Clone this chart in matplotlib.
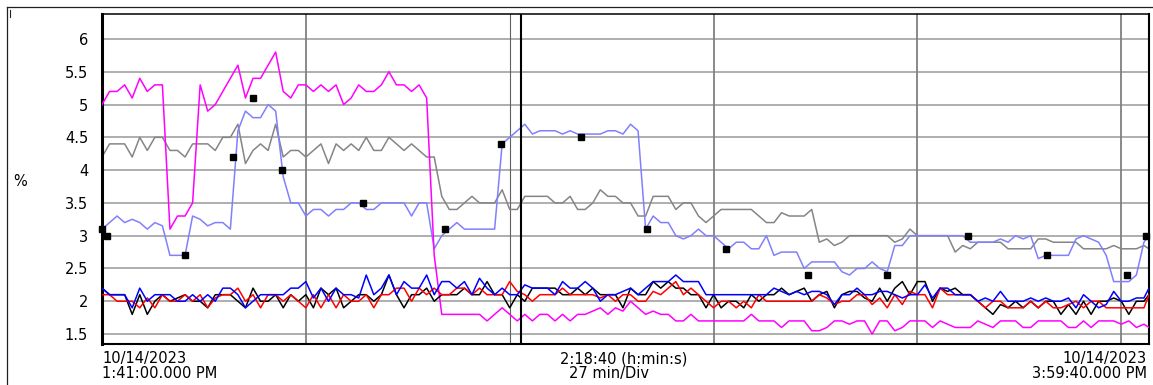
import numpy as np
import matplotlib
matplotlib.use("Agg")
import matplotlib.pyplot as plt
from matplotlib.lines import Line2D

# sample grid in minutes after 1:41:00 PM (one sample per minute, plus the last one)
minutes = np.append(np.arange(139), 138.67)

magenta = [
    5.0, 5.2, 5.2, 5.3, 5.1, 5.4, 5.2, 5.3, 5.3, 3.1,
    3.3, 3.3, 3.5, 5.3, 4.9, 5.0, 5.2, 5.4, 5.6, 5.1,
    5.4, 5.4, 5.6, 5.8, 5.2, 5.1, 5.3, 5.3, 5.2, 5.3,
    5.2, 5.3, 5.0, 5.1, 5.3, 5.2, 5.2, 5.3, 5.5, 5.3,
    5.3, 5.2, 5.3, 5.1, 2.7, 1.8, 1.8, 1.8, 1.8, 1.8,
    1.8, 1.7, 1.8, 1.9, 1.8, 1.7, 1.8, 1.7, 1.8, 1.8,
    1.7, 1.8, 1.7, 1.8, 1.8, 1.85, 1.9, 1.8, 1.9, 1.85,
    2.0, 1.9, 1.8, 1.85, 1.8, 1.8, 1.7, 1.7, 1.8, 1.7,
    1.7, 1.7, 1.7, 1.7, 1.7, 1.7, 1.8, 1.7, 1.7, 1.7,
    1.6, 1.7, 1.7, 1.7, 1.55, 1.55, 1.6, 1.7, 1.7, 1.65,
    1.7, 1.7, 1.5, 1.7, 1.7, 1.55, 1.6, 1.7, 1.7, 1.7,
    1.6, 1.7, 1.65, 1.6, 1.6, 1.6, 1.7, 1.65, 1.6, 1.7,
    1.7, 1.7, 1.6, 1.6, 1.7, 1.7, 1.7, 1.7, 1.6, 1.6,
    1.7, 1.6, 1.7, 1.7, 1.7, 1.65, 1.7, 1.6, 1.65, 1.6,
]

gray = [
    4.2, 4.4, 4.4, 4.4, 4.2, 4.5, 4.3, 4.5, 4.5, 4.3,
    4.3, 4.2, 4.4, 4.4, 4.4, 4.3, 4.5, 4.5, 4.7, 4.1,
    4.3, 4.4, 4.3, 4.7, 4.2, 4.3, 4.3, 4.2, 4.3, 4.4,
    4.1, 4.4, 4.3, 4.4, 4.3, 4.5, 4.3, 4.3, 4.5, 4.4,
    4.3, 4.4, 4.3, 4.2, 4.2, 3.6, 3.4, 3.4, 3.5, 3.6,
    3.5, 3.5, 3.5, 3.7, 3.4, 3.4, 3.6, 3.6, 3.6, 3.6,
    3.5, 3.5, 3.6, 3.4, 3.4, 3.5, 3.7, 3.6, 3.6, 3.5,
    3.5, 3.3, 3.3, 3.6, 3.6, 3.6, 3.4, 3.5, 3.5, 3.3,
    3.2, 3.3, 3.4, 3.4, 3.4, 3.4, 3.4, 3.3, 3.2, 3.2,
    3.35, 3.3, 3.3, 3.3, 3.4, 2.9, 2.95, 2.85, 2.9, 3.0,
    3.0, 3.0, 3.0, 3.0, 3.0, 2.9, 2.95, 3.1, 3.0, 3.0,
    3.0, 3.0, 3.0, 2.75, 2.85, 2.8, 2.9, 2.9, 2.9, 2.9,
    2.8, 2.8, 2.8, 2.8, 2.95, 2.95, 2.9, 2.9, 2.9, 2.9,
    2.8, 2.8, 2.8, 2.8, 2.85, 2.8, 2.8, 2.8, 2.85, 2.8,
]

lavender = [
    3.1, 3.2, 3.3, 3.2, 3.25, 3.2, 3.1, 3.2, 3.15, 2.7,
    2.7, 2.7, 3.3, 3.25, 3.15, 3.2, 3.2, 3.1, 4.6, 4.9,
    4.8, 4.8, 5.0, 4.9, 3.9, 3.5, 3.5, 3.3, 3.4, 3.4,
    3.3, 3.4, 3.4, 3.5, 3.5, 3.4, 3.4, 3.5, 3.5, 3.5,
    3.5, 3.3, 3.5, 3.5, 2.8, 3.0, 3.1, 3.2, 3.1, 3.1,
    3.1, 3.1, 3.1, 4.4, 4.5, 4.6, 4.7, 4.55, 4.6, 4.6,
    4.6, 4.55, 4.6, 4.55, 4.55, 4.55, 4.55, 4.6, 4.6, 4.55,
    4.7, 4.6, 3.1, 3.3, 3.2, 3.2, 3.0, 2.95, 3.0, 3.1,
    3.0, 3.0, 2.9, 2.8, 2.9, 2.9, 2.8, 2.8, 3.0, 2.7,
    2.75, 2.75, 2.75, 2.5, 2.6, 2.6, 2.6, 2.6, 2.45, 2.4,
    2.5, 2.5, 2.6, 2.5, 2.45, 2.85, 2.85, 3.0, 3.0, 3.0,
    3.0, 3.0, 3.0, 3.0, 3.0, 2.9, 2.9, 2.9, 2.9, 2.95,
    2.9, 3.0, 2.95, 3.0, 2.65, 2.7, 2.7, 2.7, 2.7, 2.95,
    3.0, 2.95, 2.9, 2.7, 2.3, 2.3, 2.3, 2.4, 2.9, 3.0,
]

black = [
    2.2, 2.1, 2.1, 2.1, 1.8, 2.1, 1.8, 2.0, 2.1, 2.0,
    2.05, 2.1, 2.0, 2.0, 1.9, 2.1, 2.1, 2.1, 2.0, 1.9,
    2.2, 2.0, 2.0, 2.1, 1.9, 2.1, 2.0, 2.1, 1.9, 2.2,
    2.1, 2.2, 1.9, 2.0, 2.1, 2.1, 2.0, 2.1, 2.4, 2.1,
    1.9, 2.1, 2.1, 2.2, 2.0, 2.1, 2.1, 2.1, 2.2, 2.1,
    2.1, 2.3, 2.1, 2.1, 1.9, 2.1, 2.0, 2.2, 2.2, 2.2,
    2.2, 2.1, 2.1, 2.2, 2.1, 2.2, 2.1, 2.1, 2.1, 1.9,
    2.2, 2.1, 2.1, 2.3, 2.2, 2.3, 2.2, 2.2, 2.1, 2.1,
    1.9, 2.1, 1.9, 2.0, 2.0, 1.9, 2.1, 2.0, 2.1, 2.1,
    2.2, 2.1, 2.15, 2.2, 2.0, 2.1, 2.15, 1.9, 2.1, 2.15,
    2.15, 2.05, 2.0, 2.2, 2.0, 2.2, 2.3, 2.1, 2.3, 2.3,
    2.0, 2.2, 2.15, 2.2, 2.1, 2.1, 2.0, 1.9, 1.8, 1.95,
    1.9, 2.0, 1.9, 2.0, 1.9, 2.0, 2.0, 1.8, 1.95, 1.8,
    2.0, 1.8, 2.0, 2.0, 2.05, 2.0, 1.8, 2.0, 2.0, 2.1,
]

red = [
    2.1, 2.1, 2.0, 2.0, 2.0, 1.9, 2.05, 1.9, 2.1, 2.0,
    2.0, 2.1, 2.0, 2.1, 1.9, 2.05, 2.1, 2.1, 2.2, 2.0,
    2.1, 1.9, 2.1, 2.1, 2.0, 2.1, 2.0, 1.9, 2.1, 1.9,
    2.1, 1.9, 2.1, 2.0, 2.0, 2.1, 1.9, 2.1, 2.1, 2.2,
    2.2, 2.0, 2.2, 2.1, 2.2, 2.1, 2.1, 2.2, 2.2, 2.1,
    2.2, 2.1, 2.1, 2.1, 2.3, 2.15, 2.1, 2.0, 2.1, 2.1,
    2.1, 2.2, 2.1, 2.1, 2.1, 2.1, 2.05, 2.1, 2.0, 2.1,
    2.1, 2.0, 2.0, 2.15, 2.1, 2.2, 2.3, 2.1, 2.2, 2.1,
    2.0, 1.9, 2.0, 2.0, 1.9, 2.0, 1.9, 2.1, 2.0, 2.0,
    2.0, 2.0, 2.0, 2.0, 2.0, 2.1, 2.05, 1.95, 2.0, 2.0,
    2.1, 2.1, 1.95, 2.05, 1.9, 2.1, 1.95, 2.15, 2.1, 2.1,
    1.9, 2.2, 2.1, 2.1, 2.1, 2.1, 2.0, 1.9, 2.0, 2.0,
    1.9, 1.9, 1.9, 2.0, 1.9, 2.0, 1.9, 1.9, 1.95, 2.0,
    1.9, 2.0, 2.0, 1.9, 1.9, 1.9, 1.9, 1.9, 1.9, 2.1,
]

blue = [
    2.2, 2.1, 2.1, 2.1, 1.9, 2.2, 2.0, 2.1, 2.1, 2.1,
    2.0, 2.0, 2.1, 2.0, 2.1, 2.0, 2.2, 2.2, 2.1, 1.9,
    2.0, 2.1, 2.1, 2.1, 2.1, 2.2, 2.2, 2.3, 2.05, 2.2,
    2.0, 2.2, 2.1, 2.1, 2.05, 2.4, 2.1, 2.2, 2.4, 2.1,
    2.3, 2.2, 2.2, 2.4, 2.1, 2.3, 2.3, 2.2, 2.3, 2.1,
    2.35, 2.2, 2.1, 2.2, 2.1, 2.1, 2.25, 2.2, 2.2, 2.2,
    2.1, 2.3, 2.2, 2.2, 2.3, 2.2, 2.0, 2.1, 2.1, 2.15,
    2.2, 2.1, 2.2, 2.3, 2.3, 2.3, 2.4, 2.3, 2.3, 2.3,
    2.1, 2.1, 2.1, 2.1, 2.1, 2.1, 2.1, 2.1, 2.1, 2.2,
    2.15, 2.1, 2.15, 2.1, 2.15, 2.15, 2.1, 1.95, 2.1, 2.1,
    2.2, 2.1, 2.1, 2.15, 2.15, 2.1, 2.05, 2.1, 2.1, 2.25,
    2.05, 2.2, 2.2, 2.1, 2.1, 2.1, 2.0, 2.05, 2.0, 2.15,
    2.0, 2.0, 2.0, 2.05, 2.0, 2.05, 2.0, 2.0, 2.05, 1.9,
    2.1, 2.0, 1.9, 1.95, 2.15, 2.0, 2.0, 2.05, 2.05, 2.2,
]

# point markers sitting on the lavender trace
marker_minutes = [0.0, 0.6, 11.0, 17.3, 20.0, 23.9, 34.6, 45.4, 52.9, 63.4,
                  72.2, 82.7, 93.5, 104.0, 114.7, 125.2, 135.7, 138.3]
marker_values = [3.1, 3.0, 2.7, 4.2, 5.1, 4.0, 3.5, 3.1, 4.4, 4.5,
                 3.1, 2.8, 2.4, 2.4, 3.0, 2.7, 2.4, 3.0]

y_ticks = [1.5, 2, 2.5, 3, 3.5, 4, 4.5, 5, 5.5, 6]
div_minutes = [27, 54, 81, 108, 135]
cursor_minute = 55.5

plt.rcParams["font.family"] = ["DejaVu Sans"]
W, H = 1153, 385
fig = plt.figure(figsize=(W / 100, H / 100), dpi=100)
ax = fig.add_axes([102 / W, 1 - 344 / H, (1149 - 102) / W, (344 - 14) / H])

# grid
for v in y_ticks:
    ax.axhline(v, color="#999999", lw=1.1, zorder=1)
for i, m in enumerate(div_minutes):
    if i == 1:
        ax.axvline(m, color="#606060", lw=0.8, zorder=1)
    else:
        ax.axvline(m, color="#808080", lw=1.3, zorder=1)
ax.axvline(cursor_minute, color="black", lw=1.5, zorder=6)

# traces
ax.plot(minutes, gray, color="#858585", lw=1.1, zorder=2)
ax.plot(minutes, lavender, color="#8080ff", lw=1.1, zorder=3)
ax.plot(minutes, magenta, color="#ff00ff", lw=1.1, zorder=3)
ax.plot(minutes, black, color="black", lw=1.1, zorder=4)
ax.plot(minutes, red, color="#ff0000", lw=1.1, zorder=4)
ax.plot(minutes, blue, color="#0000ff", lw=1.1, zorder=5)
ax.plot(marker_minutes, marker_values, ls="none", marker="s", ms=3.8,
        color="black", zorder=7, clip_on=False)

ax.set_xlim(0, 138.67)
ax.set_ylim(1.348, 6.381)
ax.set_xticks([])
ax.set_yticks(y_ticks)
ax.set_yticklabels([f"{v:g}" for v in y_ticks], fontsize=10.5)
ax.tick_params(axis="y", length=0, pad=10)

ax.spines["left"].set_linewidth(2.2)
ax.spines["top"].set_linewidth(1.1)
ax.spines["right"].set_linewidth(1.5)
ax.spines["bottom"].set_linewidth(1.5)

# outer frame
fig.add_artist(Line2D([7 / W, 1], [1 - 7 / H] * 2, color="#202020", lw=0.9))
fig.add_artist(Line2D([7 / W] * 2, [0, 1 - 7 / H], color="#202020", lw=0.9))
fig.add_artist(Line2D([9.5 / W] * 2, [1 - 10 / H, 1 - 17 / H], color="#202020", lw=0.8))

fs = 10.5
fig.text(20 / W, 1 - 181 / H, "%", ha="center", va="center", fontsize=fs)
fig.text(102 / W, 1 - 358.5 / H, "10/14/2023", ha="left", va="center", fontsize=fs)
fig.text(102 / W, 1 - 373.5 / H, "1:41:00.000 PM", ha="left", va="center", fontsize=fs)
fig.text(624 / W, 1 - 358.5 / H, "2:18:40 (h:min:s)", ha="center", va="center", fontsize=fs)
fig.text(609 / W, 1 - 373.5 / H, "27 min/Div", ha="center", va="center", fontsize=fs)
fig.text(1147 / W, 1 - 358.5 / H, "10/14/2023", ha="right", va="center", fontsize=fs)
fig.text(1147 / W, 1 - 373.5 / H, "3:59:40.000 PM", ha="right", va="center", fontsize=fs)

fig.savefig("out.png", dpi=100)
plt.close(fig)
